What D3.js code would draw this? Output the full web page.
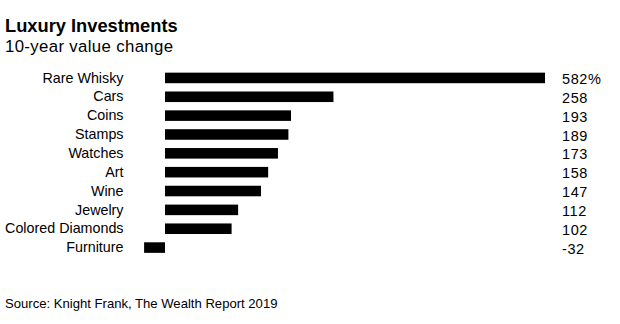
<!DOCTYPE html>
<html><head><meta charset="utf-8">
<script src="https://cdn.jsdelivr.net/npm/d3@7"></script>
<style>body{margin:0;background:#fff}svg{display:block;font-family:"Liberation Sans",Arial,sans-serif}</style>
</head><body><svg id="c" width="620" height="324"></svg>
<script>
const categories = ["Rare Whisky","Cars","Coins","Stamps","Watches","Art","Wine","Jewelry","Colored Diamonds","Furniture"];
const values = [582,258,193,189,173,158,147,112,102,-32];
const valueLabels = ["582%","258","193","189","173","158","147","112","102","-32"];

const svg = d3.select("#c");
const x = d3.scaleLinear().domain([0,582]).range([165,545]);
const y = d3.scaleBand().domain(categories).range([68.5,257]).paddingInner(0.44).paddingOuter(0.22);

svg.append("text").attr("x",5).attr("y",32).attr("font-size",18.3).attr("font-weight","bold").attr("fill","#000").text("Luxury Investments");
svg.append("text").attr("x",5).attr("y",52).attr("font-size",16.8).attr("letter-spacing",0.35).attr("fill","#000").text("10-year value change");

svg.append("g").selectAll("rect").data(values).join("rect")
  .attr("x",(d)=>x(Math.min(0,d))).attr("width",(d)=>Math.abs(x(d)-x(0)))
  .attr("y",(d,i)=>y(categories[i])).attr("height",y.bandwidth()).attr("fill","#000");

svg.append("g").selectAll("text").data(categories).join("text")
  .attr("x",123.5).attr("y",(d)=>y(d)+y.bandwidth()/2).attr("dy","0.33em")
  .attr("text-anchor","end").attr("font-size",14.3).attr("fill","#000").text(d=>d);

svg.append("g").selectAll("text").data(valueLabels).join("text")
  .attr("x",562).attr("y",(d,i)=>y(categories[i])+y.bandwidth()/2).attr("dy","0.42em")
  .attr("font-size",14.5).attr("letter-spacing",0.6).attr("fill","#000").text(d=>d);

svg.append("text").attr("x",5).attr("y",308).attr("font-size",13.1).attr("fill","#000").text("Source: Knight Frank, The Wealth Report 2019");
</script></body></html>
